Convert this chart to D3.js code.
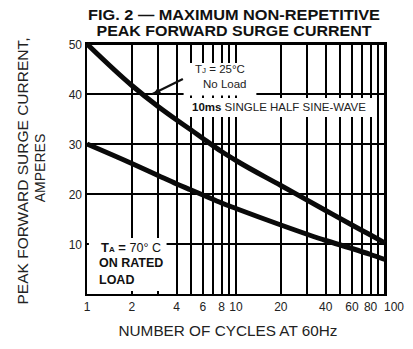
<!DOCTYPE html>
<html><head><meta charset="utf-8">
<script src="https://cdn.jsdelivr.net/npm/d3@7"></script>
<style>body{margin:0;background:#fff}svg{display:block}text{font-family:"Liberation Sans",Arial,sans-serif}</style>
</head><body>
<svg id="c" width="413" height="349" xmlns="http://www.w3.org/2000/svg"></svg>
<script>
// ---- data ----
const titleLines = ["FIG. 2 — MAXIMUM NON-REPETITIVE", "PEAK FORWARD SURGE CURRENT"];
const xTickValues = [1, 2, 4, 6, 8, 10, 20, 40, 60, 80, 100];
const xGridValues = [2, 3, 4, 5, 6, 7, 8, 9, 10, 20, 30, 40, 50, 60, 70, 80, 90, 100];
const yTickValues = [10, 20, 30, 40, 50];
const cycles = [1, 2, 3, 4, 5, 6, 8, 10, 20, 40, 60, 80, 100];
const surgeTj25 = [50, 41.7, 37.5, 34.8, 32.8, 31.1, 28.5, 26.7, 21.7, 16.7, 13.8, 11.8, 10.2];
const surgeTa70 = [30, 26.1, 23.7, 22.0, 20.8, 19.8, 18.2, 17.1, 13.8, 10.7, 9.1, 7.9, 6.9];
const xTitle = "NUMBER OF CYCLES AT 60Hz";
const yTitle = ["PEAK FORWARD SURGE CURRENT,", "AMPERES"];

const svg = d3.select("#c");
const x = d3.scaleLog().domain([1, 100]).range([87, 385]);
const y = d3.scaleLinear().domain([0, 50]).range([294, 44]);

// grid (black, crisp, 2px)
const gridG = svg.append("g").style("shape-rendering", "crispEdges");
xGridValues.forEach(v => {
  gridG.append("rect").attr("x", Math.round(x(v)) - 1).attr("y", Math.round(y(50)))
    .attr("width", 2).attr("height", Math.round(y(0) - y(50))).style("fill", "#000");
});
yTickValues.forEach(v => {
  gridG.append("rect").attr("x", Math.round(x(1))).attr("y", Math.round(y(v)) - 1)
    .attr("width", Math.round(x(100) - x(1))).attr("height", 2).style("fill", "#000");
});

// white label boxes (interrupt gridlines)  [x0, yTop, x1, yBottom] in data units
const boxes = [
  [4.45, 46.2, 13.7, 39.7],
  [4.8, 39.2, 88, 35.4],
  [1.03, 11.2, 3.42, 0.55]
];
boxes.forEach(d => {
  svg.append("rect").attr("x", x(d[0])).attr("y", y(d[1]))
    .attr("width", x(d[2]) - x(d[0])).attr("height", y(d[3]) - y(d[1]))
    .style("fill", "#fff");
});

// frame
svg.append("rect").attr("x", Math.round(x(1)) - 1).attr("y", Math.round(y(50)) - 1)
  .attr("width", Math.round(x(100) - x(1)) + 2).attr("height", Math.round(y(0) - y(50)) + 2)
  .style("fill", "none").style("stroke", "#000").style("stroke-width", "2px")
  .style("shape-rendering", "crispEdges");
// bottom stubs
xGridValues.forEach(v => {
  svg.append("rect").attr("x", Math.round(x(v)) - 1).attr("y", Math.round(y(0)) - 3)
    .attr("width", 2).attr("height", 3).style("fill", "#000").style("shape-rendering", "crispEdges");
});

// curves
const lineGen = d3.line().x(d => x(d[0])).y(d => y(d[1])).curve(d3.curveMonotoneX);
[surgeTj25, surgeTa70].forEach(s => {
  svg.append("path").datum(cycles.map((c, i) => [c, s[i]]))
    .attr("d", lineGen).style("fill", "none").style("stroke", "#0a0a0a")
    .style("stroke-width", "5px");
});

// tick labels
xTickValues.forEach(d => {
  svg.append("text").attr("x", d === 100 ? x(d) - 1 : x(d)).attr("y", 311)
    .attr("text-anchor", d === 100 ? "start" : "middle")
    .style("font-size", "12px").style("fill", "#222").text(d);
});
yTickValues.forEach(d => {
  svg.append("text").attr("x", 82).attr("y", y(d) + 4.5).attr("text-anchor", "end")
    .style("font-size", "12px").style("fill", "#222").text(d);
});

// titles
const tl = [[20, 292], [35.5, 275]];
titleLines.forEach((t, i) => {
  svg.append("text").attr("x", 234).attr("y", tl[i][0]).attr("text-anchor", "middle")
    .style("font-size", "14.5px").style("font-weight", "bold").style("fill", "#111")
    .attr("textLength", tl[i][1]).attr("lengthAdjust", "spacingAndGlyphs").text(t);
});
svg.append("text").attr("x", 228).attr("y", 336).attr("text-anchor", "middle")
  .style("font-size", "14.5px").style("fill", "#222")
  .attr("textLength", 219).attr("lengthAdjust", "spacingAndGlyphs").text(xTitle);
svg.append("text").attr("transform", "translate(28,171) rotate(-90)").attr("text-anchor", "middle")
  .style("font-size", "14px").style("fill", "#222")
  .attr("textLength", 267).attr("lengthAdjust", "spacingAndGlyphs").text(yTitle[0]);
svg.append("text").attr("transform", "translate(45,168) rotate(-90)").attr("text-anchor", "middle")
  .style("font-size", "14px").style("fill", "#222").text(yTitle[1]);

// annotations
const tj = svg.append("text").attr("x", 195).attr("y", 73).style("font-size", "11.5px").style("fill", "#222");
tj.append("tspan").text("T");
tj.append("tspan").style("font-size", "8px").text("J");
tj.append("tspan").text(" = 25°C");
svg.append("text").attr("x", 203).attr("y", 88).style("font-size", "11.5px").style("fill", "#222").text("No Load");
const ms = svg.append("text").attr("x", 192).attr("y", 111).style("font-size", "11.5px").style("fill", "#222");
ms.append("tspan").style("font-weight", "bold").style("fill", "#111").text("10ms");
ms.append("tspan").text(" SINGLE HALF SINE-WAVE");

const ta = svg.append("text").attr("x", 101).attr("y", 252).style("font-size", "13px").style("fill", "#111");
ta.append("tspan").style("font-weight", "bold").text("T");
ta.append("tspan").style("font-weight", "bold").style("font-size", "8px").text("A");
ta.append("tspan").style("font-weight", "bold").text(" = ");
ta.append("tspan").style("font-size", "12.5px").text("70° C");
svg.append("text").attr("x", 99).attr("y", 267).style("font-size", "12.5px").style("font-weight", "bold").style("fill", "#111").text("ON RATED");
svg.append("text").attr("x", 99).attr("y", 284).style("font-size", "12.5px").style("font-weight", "bold").style("fill", "#111").text("LOAD");

// arrow
const a0 = [x(4.4), y(43)], a1 = [x(2.75), y(40)];
const arrowBody = d3.path();
arrowBody.moveTo(a0[0], a0[1]); arrowBody.lineTo(a1[0], a1[1]);
svg.append("path").attr("d", arrowBody.toString()).style("stroke", "#111").style("stroke-width", "2.2px").style("fill", "none");
const ang = Math.atan2(a1[1] - a0[1], a1[0] - a0[0]);
const hl = 8, hw = 3.5;
const head = d3.path();
head.moveTo(a1[0] + 1, a1[1]);
head.lineTo(a1[0] - hl * Math.cos(ang) + hw * Math.sin(ang), a1[1] - hl * Math.sin(ang) - hw * Math.cos(ang));
head.lineTo(a1[0] - hl * Math.cos(ang) - hw * Math.sin(ang), a1[1] - hl * Math.sin(ang) + hw * Math.cos(ang));
head.closePath();
svg.append("path").attr("d", head.toString()).style("fill", "#111");
</script>
</body></html>
